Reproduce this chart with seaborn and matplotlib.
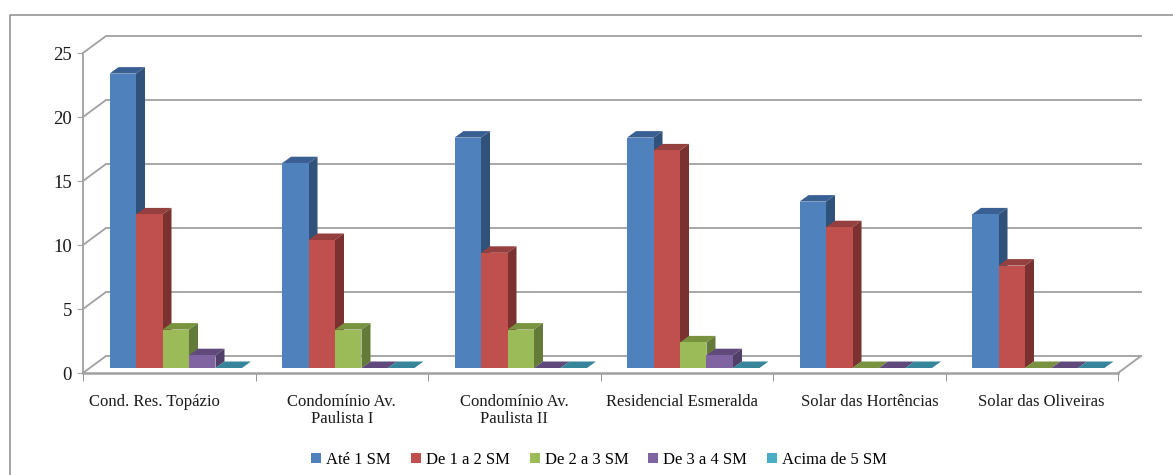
import numpy as np
import pandas as pd
import seaborn as sns
import matplotlib.pyplot as plt
from matplotlib.lines import Line2D
from matplotlib.patches import Polygon
from matplotlib.transforms import Affine2D

categories = ['Cond. Res. Topázio', 'Condomínio Av.\nPaulista I', 'Condomínio Av.\nPaulista II',
              'Residencial Esmeralda', 'Solar das Hortências', 'Solar das Oliveiras']
ate_1 = [23, 16, 18, 18, 13, 12]
de_1_2 = [12, 10, 9, 17, 11, 8]
de_2_3 = [3, 3, 3, 2, 0, 0]
de_3_4 = [1, 0, 0, 1, 0, 0]
acima_5 = [0, 0, 0, 0, 0, 0]
series = ['Até 1 SM', 'De 1 a 2 SM', 'De 2 a 3 SM', 'De 3 a 4 SM', 'Acima de 5 SM']

front = ['#4F81BD', '#C0504D', '#9BBB59', '#8064A2', '#4BACC6']
side = ['#30527A', '#7A3230', '#647A38', '#523F69', '#2F7386']
top = ['#3A6093', '#95403E', '#78923F', '#5F4A7B', '#37859B']
label_nudge = [-15, 0, 0, -5, 11, 10]

df = pd.DataFrame({'cat': np.repeat(categories, 5),
                   'faixa': series * 6,
                   'valor': np.array([ate_1, de_1_2, de_2_3, de_3_4, acima_5]).T.ravel()})

plt.rcParams['font.family'] = ['Liberation Serif', 'DejaVu Serif']
W, H = 1173, 475
fig = plt.figure(figsize=(W / 100, H / 100), dpi=100)
ax = fig.add_axes([83 / W, 1 - 373 / H, 1035 / W, 320 / H])
sns.barplot(data=df, x='cat', y='valor', hue='faixa', palette=front, width=0.768,
            saturation=1, linewidth=0, errorbar=None, ax=ax)
ax.set_xlim(-0.5, 5.5)
ax.set_ylim(0, 25)
ax.set_xlabel('')
ax.set_ylabel('')

# pixel sizes turned into data units
ux, uy = 172.5, 12.8
wall_dx, wall_dy = 23 / ux, 17 / uy
bar_shift_x, bar_shift_y = 6.5 / ux, 5 / uy
depth_x, depth_y = 9 / ux, 6.5 / uy

grid_c = '#A0A0A0'
for v in range(0, 30, 5):
    ax.plot([-0.5, -0.5 + wall_dx, 5.5 + wall_dx], [v, v + wall_dy, v + wall_dy],
            color=grid_c, lw=1.3, clip_on=False, zorder=0)
ax.plot([5.5, 5.5 + wall_dx], [0, wall_dy], color=grid_c, lw=1.3, clip_on=False, zorder=0)

for i, s in enumerate(series):
    for bar in ax.containers[i]:
        x0 = bar.get_x() + bar_shift_x
        w = bar.get_width()
        h = bar.get_height()
        bar.set_x(x0)
        bar.set_y(bar_shift_y)
        y0 = bar_shift_y
        y1 = y0 + h
        ax.add_patch(Polygon([(x0, y1), (x0 + w, y1), (x0 + w + depth_x, y1 + depth_y), (x0 + depth_x, y1 + depth_y)],
                             closed=True, fc=top[i], ec='none', zorder=2.4, clip_on=False))
        if h > 0:
            ax.add_patch(Polygon([(x0 + w, y0), (x0 + w + depth_x, y0 + depth_y),
                                  (x0 + w + depth_x, y1 + depth_y), (x0 + w, y1)],
                                 closed=True, fc=side[i], ec='none', zorder=2.4, clip_on=False))
        bar.set_zorder(2.5)

sns.despine(ax=ax, top=True, right=True)
for sp in ['left', 'bottom']:
    ax.spines[sp].set_color(grid_c)
ax.spines['bottom'].set_linewidth(1.8)
ax.spines['left'].set_linewidth(1.3)
ax.set_yticks(range(0, 30, 5))
ax.tick_params(axis='y', length=4, color=grid_c, labelsize=13.5, pad=4, labelcolor='#1a1a1a')
ax.set_xticks(np.arange(-0.5, 6, 1), minor=True)
ax.tick_params(axis='x', which='minor', length=6, color='#808080')
ax.tick_params(axis='x', which='major', length=0, labelsize=12, pad=15, labelcolor='#1a1a1a')
ax.set_xticks(range(6))
ax.set_xticklabels(categories, linespacing=1.1)
for lab, n in zip(ax.get_xticklabels(), label_nudge):
    lab.set_transform(lab.get_transform() + Affine2D().translate(n, 0))

sns.move_legend(ax, 'center', bbox_to_anchor=(599 / W, 1 - 460 / H), bbox_transform=fig.transFigure,
                ncol=5, frameon=False, title=None, fontsize=12, handlelength=0.6, handleheight=0.6,
                handletextpad=0.3, columnspacing=1.2)

# outer chart frame
fig.add_artist(Line2D([10 / W, 10 / W, 1], [0, 1 - 14.5 / H, 1 - 14.5 / H], color='#8C8C8C', lw=1.1))
fig.savefig('out.png', dpi=100)
